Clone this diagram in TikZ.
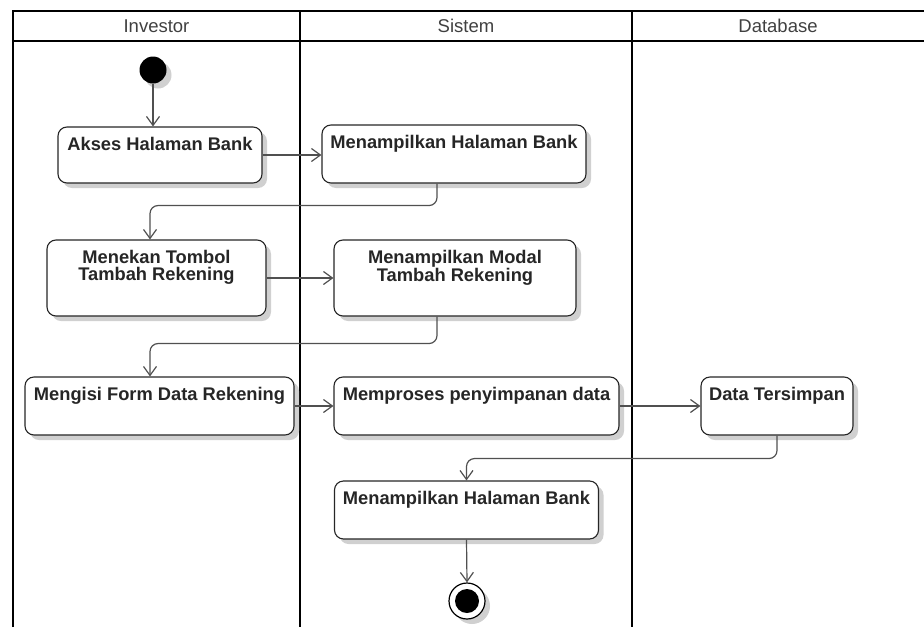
\documentclass[tikz,border=0pt]{standalone}
\usepackage{fontspec}
\setmainfont{Liberation Sans}
\usetikzlibrary{arrows.meta}

\definecolor{garis}{HTML}{505050}
\definecolor{teks}{HTML}{262626}
\definecolor{bayang}{HTML}{D0D0D0}
\newcommand{\isi}[3]{\parbox[c][#2][t]{#1}{\centering\vspace*{10pt}#3}}

\begin{document}
\begin{tikzpicture}[x=1pt,y=-1pt,
	lane/.style={line width=2pt, black},
	hdr/.style={text=black!75, font=\fontsize{18.5}{20}\selectfont},
	bayangan/.style={preaction={fill=bayang, draw=none, transform canvas={xshift=5pt, yshift=-5pt}}},
	act/.style={draw=teks, line width=1.1pt, rounded corners=9pt, fill=white, inner sep=0pt,
		text=teks, font=\fontsize{18.3}{17}\selectfont\bfseries, bayangan},
	flow/.style={draw=garis, line width=1.2pt, rounded corners=8pt,
		-{Straight Barb[length=9pt,width=13pt,line width=1.2pt]}}]
	\useasboundingbox (0,0) rectangle (924,627);
	%%% Lajur
	\draw[lane] (13,627) |- (924,11);
	\draw[lane] (13,41) -- (924,41);
	\draw[lane] (300,11) -- (300,627);
	\draw[lane] (632,11) -- (632,627);
	\node[hdr] (hInv) at (156.5,26) {Investor};
	\node[hdr] (hSis) at (466,26) {Sistem};
	\node[hdr] (hDb) at (778,26) {Database};
	%%% Aktivitas
	\node[circle, fill=black, minimum size=27pt, inner sep=0pt, bayangan] (init) at (153,70) {};
	\node[act] (akses) at (160,155) {\isi{204pt}{56pt}{Akses Halaman Bank}};
	\node[act] (tampil) at (454,154) {\isi{264pt}{58pt}{Menampilkan Halaman Bank}};
	\node[act] (tekan) at (156.5,278) {\isi{219pt}{76pt}{Menekan Tombol\\Tambah Rekening}};
	\node[act] (modal) at (455,278) {\isi{242pt}{76pt}{Menampilkan Modal\\Tambah Rekening}};
	\node[act] (isiform) at (159.5,406) {\isi{269pt}{58pt}{Mengisi Form Data Rekening}};
	\node[act] (proses) at (476.5,406) {\isi{285pt}{58pt}{Memproses penyimpanan data}};
	\node[act] (simpan) at (777,406) {\isi{152pt}{58pt}{Data Tersimpan}};
	\node[act] (tampilb) at (466.5,510) {\isi{264pt}{58pt}{Menampilkan Halaman Bank}};
	\node[circle, draw=black, line width=1.2pt, fill=white, minimum size=36pt, inner sep=0pt,
		bayangan] (final) at (467,601) {};
	\fill (final.center) circle (12pt);
	%%% Alur
	\draw[flow] (init) -- (init |- akses.north);
	\draw[flow] (akses.east) -- (akses.east -| tampil.west);
	\draw[flow] ([xshift=-17pt]tampil.south) -- ++(0,22) -| ([xshift=-6.5pt]tekan.north);
	\draw[flow] (tekan.east) -- (tekan.east -| modal.west);
	\draw[flow] ([xshift=-18pt]modal.south) -- ++(0,27) -| ([xshift=-9.5pt]isiform.north);
	\draw[flow] (isiform.east) -- (isiform.east -| proses.west);
	\draw[flow] (proses.east) -- (proses.east -| simpan.west);
	\draw[flow] (simpan.south) -- ++(0,23) -| (tampilb.north);
	\draw[flow] (tampilb.south) -- (final.north);
\end{tikzpicture}
\end{document}
